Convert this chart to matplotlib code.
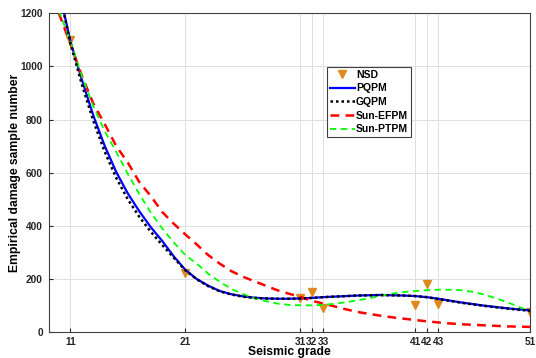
import matplotlib.pyplot as plt

plt.rcParams["font.family"] = ["Liberation Sans", "DejaVu Sans"]
plt.rcParams["font.weight"] = "bold"

# observed damage samples (NSD)
nsd_grade = [11, 21, 31, 32, 33, 41, 42, 43, 51]
nsd_count = [1098, 223, 129, 152, 92, 104, 180, 107, 77]

# fitted curves at integer grades
grade = list(range(10, 52))
pqpm = [1290, 1095, 950, 815, 700, 602, 522, 455, 395, 343, 285, 235,
        200, 175, 155, 143, 135, 130, 127, 126, 126, 127, 129, 132,
        134, 136, 138, 139, 140, 139, 138, 136, 132, 126, 119, 112,
        106, 100, 95, 90, 86, 82]
gqpm = [1290, 1088, 932, 795, 678, 580, 500, 434, 378, 328, 280, 233,
        199, 173, 154, 142, 134, 129, 127, 126, 126, 127, 129, 132,
        134, 136, 138, 139, 140, 139, 138, 136, 132, 125, 118, 111,
        105, 99, 94, 89, 85, 80]
sun_efpm = [1200, 1085, 965, 860, 782, 700, 638, 565, 512, 452, 408, 368,
            330, 290, 258, 230, 209, 192, 175, 158, 145, 133, 118, 108,
            97, 86, 76, 69, 62, 56, 51, 46, 41, 37, 33, 30,
            28, 26, 24, 22, 21, 20]
sun_ptpm = [1210, 1095, 963, 850, 755, 678, 595, 520, 450, 390, 338, 290,
            258, 220, 190, 163, 144, 128, 117, 108, 103, 101, 101, 103,
            107, 113, 120, 128, 137, 145, 151, 155, 158, 160, 160, 158,
            152, 142, 128, 113, 96, 78]

xticks = [11, 21, 31, 32, 33, 41, 42, 43, 51]
yticks = [0, 200, 400, 600, 800, 1000, 1200]

fig, ax = plt.subplots(1, 1, figsize=(5.36, 3.58), dpi=100)
fig.subplots_adjust(left=0.0905, right=0.989, top=0.963, bottom=0.072)

ax.plot(nsd_grade, nsd_count, linestyle="none", marker="v", markersize=5.5,
        color="#E08A1E", label="NSD", zorder=2)
ax.plot(grade, pqpm, color="#0000FF", linewidth=1.6, label="PQPM", zorder=3)
ax.plot(grade, gqpm, color="black", linestyle=(0, (1, 1.2)), linewidth=1.8,
        label="GQPM", zorder=4)
ax.plot(grade, sun_efpm, color="#FF0000", linestyle=(0, (3.5, 2.5)),
        linewidth=1.8, label="Sun-EFPM", zorder=3)
ax.plot(grade, sun_ptpm, color="#00FF00", linestyle=(0, (3.5, 2.5)),
        linewidth=1.3, label="Sun-PTPM", zorder=3)

ax.set_xlim(9.1, 51)
ax.set_ylim(0, 1200)
ax.set_xticks(xticks)
ax.set_yticks(yticks)
ax.tick_params(direction="in", length=3, width=0.8, labelsize=7.3, pad=4,
               colors="#262626")
ax.tick_params(axis="x", pad=3.5)
ax.grid(True, color="#DEDEDE", linewidth=0.7)
ax.set_axisbelow(True)
for side in ["left", "bottom", "top", "right"]:
    ax.spines[side].set_color("#404040")
    ax.spines[side].set_linewidth(0.8)

ax.set_xlabel("Seismic grade", fontsize=8.7, fontweight="bold", labelpad=-0.5)
ax.set_ylabel("Empirical damage sample number", fontsize=8.7,
              fontweight="bold", labelpad=-0.6)

leg = ax.legend(loc="upper left", bbox_to_anchor=(0.578, 0.833), fontsize=7.5,
                handlelength=2.4, handletextpad=0.1, borderpad=0.3,
                labelspacing=0.35, fancybox=False, framealpha=1,
                edgecolor="#404040", borderaxespad=0)
leg.get_frame().set_linewidth(0.8)
for t in leg.get_texts():
    t.set_fontweight("bold")

fig.savefig("out.png", dpi=100)
